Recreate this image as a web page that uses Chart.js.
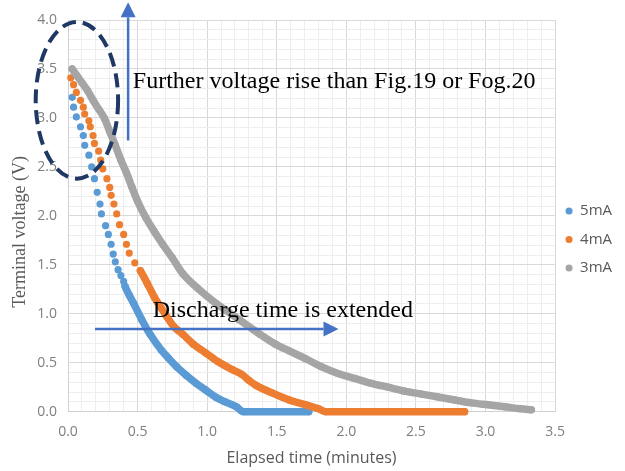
<!DOCTYPE html>
<html>
<head>
<meta charset="utf-8">
<script src="https://cdn.jsdelivr.net/npm/chart.js@4/dist/chart.umd.min.js"></script>
<style>
  html, body { margin: 0; padding: 0; background: #fff; }
</style>
</head>
<body>
<canvas id="dischargeChart" width="625" height="471"></canvas>
<script>
// ── Data: [elapsed minutes, terminal volts] ─────────────────────────────────

const series5mA = [
  [0.03, 3.21], [0.04, 3.11], [0.06, 3.01], [0.09, 2.91], [0.11, 2.82],
  [0.12, 2.72], [0.15, 2.62], [0.17, 2.50], [0.19, 2.38], [0.21, 2.24],
  [0.23, 2.12], [0.24, 2.02], [0.27, 1.90], [0.29, 1.81], [0.31, 1.71],
  [0.325, 1.61], [0.34, 1.53], [0.36, 1.45], [0.38, 1.39], [0.40, 1.33],
  [0.41, 1.28], [0.44, 1.19], [0.47, 1.11], [0.53, 0.94], [0.59, 0.79],
  [0.67, 0.63], [0.72, 0.55], [0.78, 0.46], [0.85, 0.37], [0.92, 0.29],
  [0.99, 0.22], [1.06, 0.15], [1.13, 0.10], [1.21, 0.05], [1.26, 0.00],
  [1.73, 0.00]
];

const series4mA = [
  [0.02, 3.41], [0.04, 3.34], [0.06, 3.26], [0.09, 3.18], [0.11, 3.11],
  [0.12, 3.04], [0.15, 2.97], [0.16, 2.91], [0.18, 2.82], [0.19, 2.74],
  [0.22, 2.66], [0.235, 2.57], [0.25, 2.48], [0.28, 2.38], [0.30, 2.29],
  [0.31, 2.21], [0.33, 2.12], [0.35, 2.02], [0.37, 1.91], [0.40, 1.81],
  [0.42, 1.71], [0.44, 1.62], [0.48, 1.52], [0.52, 1.44], [0.57, 1.31],
  [0.62, 1.17], [0.67, 1.06], [0.71, 0.97], [0.76, 0.87], [0.825, 0.79],
  [0.90, 0.69], [0.99, 0.60], [1.08, 0.51], [1.18, 0.43], [1.25, 0.38],
  [1.30, 0.32], [1.35, 0.27], [1.47, 0.19], [1.59, 0.12], [1.71, 0.07],
  [1.80, 0.03], [1.85, 0.00], [2.85, 0.00]
];

const series3mA = [
  [0.03, 3.50], [0.06, 3.44], [0.10, 3.36], [0.14, 3.28], [0.18, 3.18],
  [0.22, 3.09], [0.26, 3.00], [0.30, 2.86], [0.34, 2.72], [0.38, 2.57],
  [0.42, 2.44], [0.46, 2.29], [0.50, 2.15], [0.56, 1.98], [0.62, 1.84],
  [0.68, 1.71], [0.75, 1.57], [0.825, 1.41], [0.94, 1.25], [1.06, 1.11],
  [1.13, 1.04], [1.23, 0.94], [1.30, 0.87], [1.38, 0.79], [1.49, 0.69],
  [1.59, 0.62], [1.71, 0.54], [1.82, 0.46], [1.94, 0.39], [2.06, 0.34],
  [2.18, 0.29], [2.30, 0.25], [2.42, 0.21], [2.54, 0.18], [2.66, 0.15],
  [2.78, 0.12], [2.90, 0.09], [3.02, 0.07], [3.14, 0.05], [3.25, 0.03],
  [3.33, 0.02]
];

const seriesNames = ['5mA', '4mA', '3mA'];
const xTickLabels = ['0.0', '0.5', '1.0', '1.5', '2.0', '2.5', '3.0', '3.5'];
const yTickLabels = ['0.0', '0.5', '1.0', '1.5', '2.0', '2.5', '3.0', '3.5', '4.0'];

const xTitle = 'Elapsed time (minutes)';
const yTitle = 'Terminal voltage (V)';
const noteRise = 'Further voltage rise than Fig.19 or Fog.20';
const noteTime = 'Discharge time is extended';

// ── Styling ──────────────────────────────────────────────────────────────────

const COLORS = ['#5b9bd5', '#ed7d31', '#a5a5a5'];
// leading samples that show up as separate dots (the rest merge into a band)
const DOTS_UNTIL = [20, 23, 0];
const SANS = "'Segoe UI', 'Open Sans', sans-serif";
const SERIF = "'Liberation Serif', 'Times New Roman', serif";

const isMajor = v => Math.abs(v * 2 - Math.round(v * 2)) < 1e-6;

function makeDataset(i, points) {
  const color = COLORS[i];
  return {
    label: seriesNames[i],
    data: points.map(p => ({ x: p[0], y: p[1] })),
    showLine: true,
    borderColor: color,
    backgroundColor: color,
    borderWidth: 7.5,
    borderCapStyle: 'round',
    borderJoinStyle: 'round',
    cubicInterpolationMode: 'monotone',
    pointRadius: 3.6,
    pointHoverRadius: 3.6,
    pointBorderWidth: 0,
    pointBackgroundColor: color,
    clip: false,
    order: 3 - i,
    segment: {
      borderColor: ctx => ctx.p0DataIndex >= DOTS_UNTIL[i] ? color : 'transparent'
    }
  };
}

// ── Annotations (placed in data units) ──────────────────────────────────────

const ring = { cx: 0.064, cy: 3.18, rx: 0.296, ry: 0.80 };
const riseArrow = { x: 0.432, from: 2.77, to: 4.18 };
const timeArrow = { y: 0.845, from: 0.194, to: 1.944 };
const risePos = { x: 0.466, y: 3.31 };
const timePos = { x: 0.609, y: 0.968 };

function drawArrow(ctx, x0, y0, x1, y1) {
  const ang = Math.atan2(y1 - y0, x1 - x0);
  const head = 15, half = 7.5;
  const bx = x1 - head * Math.cos(ang), by = y1 - head * Math.sin(ang);
  ctx.beginPath();
  ctx.moveTo(x0, y0);
  ctx.lineTo(bx, by);
  ctx.stroke();
  ctx.beginPath();
  ctx.moveTo(x1, y1);
  ctx.lineTo(bx + half * Math.sin(ang), by - half * Math.cos(ang));
  ctx.lineTo(bx - half * Math.sin(ang), by + half * Math.cos(ang));
  ctx.closePath();
  ctx.fill();
}

const annotate = {
  id: 'annotate',
  afterLayout(chart) {
    // nudge the legend a little up/left, as in the original figure
    const lg = chart.legend;
    lg.top -= 6; lg.bottom -= 6;
    lg.left -= 3; lg.right -= 3;
  },
  afterDatasetsDraw(chart) {
    const { ctx, chartArea, scales: { x, y } } = chart;
    ctx.save();

    // dashed ellipse around the start of the curves
    const cx = x.getPixelForValue(ring.cx), cy = y.getPixelForValue(ring.cy);
    ctx.strokeStyle = '#1f3864';
    ctx.lineWidth = 4;
    ctx.setLineDash([14, 7]);
    ctx.beginPath();
    ctx.ellipse(cx, cy,
      x.getPixelForValue(ring.cx + ring.rx) - cx,
      cy - y.getPixelForValue(ring.cy + ring.ry), 0, 0, Math.PI * 2);
    ctx.stroke();
    ctx.setLineDash([]);

    // blue arrows
    ctx.strokeStyle = '#4472c4';
    ctx.fillStyle = '#4472c4';
    ctx.lineWidth = 2.5;
    const ax = x.getPixelForValue(riseArrow.x);
    drawArrow(ctx, ax, y.getPixelForValue(riseArrow.from), ax, y.getPixelForValue(riseArrow.to));
    const ay = y.getPixelForValue(timeArrow.y);
    drawArrow(ctx, x.getPixelForValue(timeArrow.from), ay, x.getPixelForValue(timeArrow.to), ay);

    // notes
    ctx.fillStyle = '#000';
    ctx.font = '24px ' + SERIF;
    ctx.textAlign = 'left';
    ctx.textBaseline = 'alphabetic';
    ctx.fillText(noteRise, x.getPixelForValue(risePos.x), y.getPixelForValue(risePos.y));
    ctx.fillText(noteTime, x.getPixelForValue(timePos.x), y.getPixelForValue(timePos.y));

    // y axis title (serif, sits a little below the plot centre)
    ctx.translate(chartArea.left - 48, (chartArea.top + chartArea.bottom) / 2 + 16);
    ctx.rotate(-Math.PI / 2);
    ctx.textAlign = 'center';
    ctx.textBaseline = 'middle';
    ctx.fillStyle = '#595959';
    ctx.font = '18px ' + SERIF;
    ctx.fillText(yTitle, 0, 0);
    ctx.restore();
  }
};

// ── Chart ────────────────────────────────────────────────────────────────────

const canvas = document.getElementById('dischargeChart');

new Chart(canvas, {
  type: 'scatter',
  data: {
    datasets: [
      makeDataset(0, series5mA),
      makeDataset(1, series4mA),
      makeDataset(2, series3mA)
    ]
  },
  options: {
    responsive: false,
    animation: false,
    events: [],
    layout: { padding: { top: 20, right: 0, bottom: 0, left: 0 } },
    plugins: {
      tooltip: { enabled: false },
      legend: {
        position: 'right',
        align: 'center',
        labels: {
          usePointStyle: true,
          pointStyle: 'circle',
          boxWidth: 7,
          boxHeight: 5,
          padding: 13.5,
          color: '#595959',
          font: { size: 15, family: SANS },
          sort: (a, b) => a.datasetIndex - b.datasetIndex,
          generateLabels: chart =>
            Chart.defaults.plugins.legend.labels.generateLabels(chart)
              .map(l => Object.assign(l, { lineWidth: 0, strokeStyle: 'transparent' }))
        }
      }
    },
    scales: {
      x: {
        type: 'linear',
        min: 0,
        max: 3.5,
        ticks: {
          stepSize: 0.1,
          autoSkip: false,
          maxRotation: 0,
          padding: 12,
          color: '#7f7f7f',
          font: { size: 14, family: SANS },
          callback: v => isMajor(v) ? xTickLabels[Math.round(v * 2)] : ''
        },
        grid: {
          drawTicks: false,
          color: c => isMajor(c.tick.value) ? '#d9d9d9' : '#eeeeee'
        },
        border: { color: '#d0d0d0' },
        title: {
          display: true,
          text: xTitle,
          color: '#595959',
          font: { size: 16, family: SANS },
          padding: { top: 0, bottom: 3 }
        },
        afterFit: s => { s.height = 59.3; }
      },
      y: {
        type: 'linear',
        min: 0,
        max: 4,
        ticks: {
          stepSize: 0.1,
          autoSkip: false,
          padding: 11,
          color: '#7f7f7f',
          font: { size: 14, family: SANS },
          callback: v => isMajor(v) ? yTickLabels[Math.round(v * 2)] : ''
        },
        grid: {
          drawTicks: false,
          color: c => isMajor(c.tick.value) ? '#d9d9d9' : '#eeeeee'
        },
        border: { color: '#d0d0d0' },
        afterFit: s => { s.width = 68; }
      }
    }
  },
  plugins: [annotate]
});
</script>
</body>
</html>
